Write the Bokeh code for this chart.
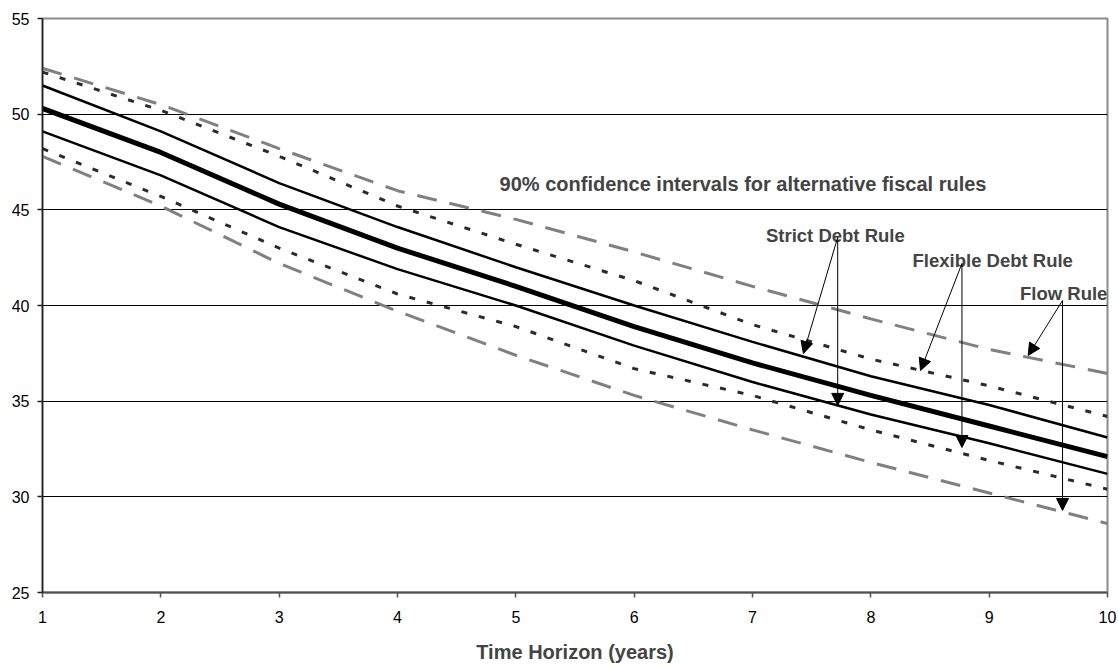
from bokeh.plotting import figure
from bokeh.models import Range1d, Label, Arrow, NormalHead, FixedTicker
from bokeh.embed import file_html
from bokeh.resources import INLINE

years = [1, 2, 3, 4, 5, 6, 7, 8, 9, 10]
central = [50.3, 48.0, 45.3, 43.0, 41.0, 38.9, 37.0, 35.3, 33.7, 32.1]
strict_upper = [51.5, 49.1, 46.4, 44.1, 42.0, 40.0, 38.1, 36.3, 34.8, 33.1]
strict_lower = [49.1, 46.8, 44.1, 41.9, 40.0, 37.9, 36.0, 34.3, 32.8, 31.2]
flex_upper = [52.2, 50.2, 47.8, 45.2, 43.2, 41.3, 39.0, 37.2, 35.8, 34.2]
flex_lower = [48.2, 45.7, 43.0, 40.6, 38.9, 36.7, 35.3, 33.5, 31.9, 30.4]
flow_upper = [52.4, 50.5, 48.2, 46.0, 44.5, 42.8, 41.0, 39.3, 37.7, 36.45]
flow_lower = [47.8, 45.2, 42.2, 39.7, 37.4, 35.3, 33.5, 31.8, 30.2, 28.6]
y_ticks = [25, 30, 35, 40, 45, 50, 55]

FONT = "Liberation Sans"

p = figure(width=1118, height=667, output_backend="svg", toolbar_location=None,
           x_range=Range1d(1, 10), y_range=Range1d(25, 55),
           min_border_left=42, min_border_right=11, min_border_top=18, min_border_bottom=75)
p.background_fill_color = "white"
p.outline_line_color = "#8a8a8a"
p.outline_line_width = 2

p.xaxis.ticker = FixedTicker(ticks=years)
p.yaxis.ticker = FixedTicker(ticks=y_ticks)
for ax in (p.xaxis, p.yaxis):
    ax.major_label_text_font = FONT
    ax.major_label_text_font_size = "16px"
    ax.major_label_text_color = "black"
    ax.minor_tick_line_color = None
    ax.major_tick_in = 0
    ax.major_tick_out = 5
    ax.major_tick_line_width = 1.5
p.yaxis.axis_line_color = "#202020"
p.yaxis.axis_line_width = 1.5
p.yaxis.major_tick_line_color = "#202020"
p.xaxis.axis_line_color = "#505050"
p.xaxis.axis_line_width = 2
p.xaxis.major_tick_line_color = "#505050"
p.xaxis.major_label_standoff = 13
p.yaxis.major_label_standoff = 8
p.xaxis.axis_label = "Time Horizon (years)"
p.xaxis.axis_label_text_font = FONT
p.xaxis.axis_label_text_font_style = "bold"
p.xaxis.axis_label_text_font_size = "20px"
p.xaxis.axis_label_standoff = 15

p.xgrid.grid_line_color = None
p.ygrid.grid_line_color = "black"
p.ygrid.grid_line_width = 1

# Flow rule (gray long dashes)
for ys in (flow_upper, flow_lower):
    p.line(years, ys, line_color="#808080", line_width=3, line_dash="20 13")
# Flexible debt rule (short dashes)
for ys in (flex_upper, flex_lower):
    p.line(years, ys, line_color="#2a2a2a", line_width=3, line_dash="6 12")
# Strict debt rule (solid)
for ys in (strict_upper, strict_lower):
    p.line(years, ys, line_color="black", line_width=2.5)
# Central projection
p.line(years, central, line_color="black", line_width=5)

p.add_layout(Label(x=6.92, y=46.35, text="90% confidence intervals for alternative fiscal rules",
                   text_font=FONT, text_font_style="bold", text_font_size="20px",
                   text_align="center", text_baseline="alphabetic"))

labels = [("Strict Debt Rule", 7.70, 43.66), ("Flexible Debt Rule", 9.03, 42.35), ("Flow Rule", 9.63, 40.63)]
for t, x, y in labels:
    p.add_layout(Label(x=x, y=y, text=t, text_font=FONT, text_font_style="bold",
                       text_font_size="18.5px", text_align="center", text_baseline="alphabetic"))

arrows = [
    (7.72, 43.56, 7.43, 37.49), (7.72, 43.56, 7.72, 34.78),
    (8.77, 42.2, 8.42, 36.6), (8.77, 42.2, 8.77, 32.58),
    (9.62, 40.26, 9.33, 37.39), (9.62, 40.26, 9.62, 29.29),
]
for xs, ys, xe, ye in arrows:
    p.add_layout(Arrow(end=NormalHead(size=12, fill_color="black", line_color="black"),
                       x_start=xs, y_start=ys, x_end=xe, y_end=ye,
                       line_color="black", line_width=1))

open("out.html", "w").write(file_html(p, INLINE))
